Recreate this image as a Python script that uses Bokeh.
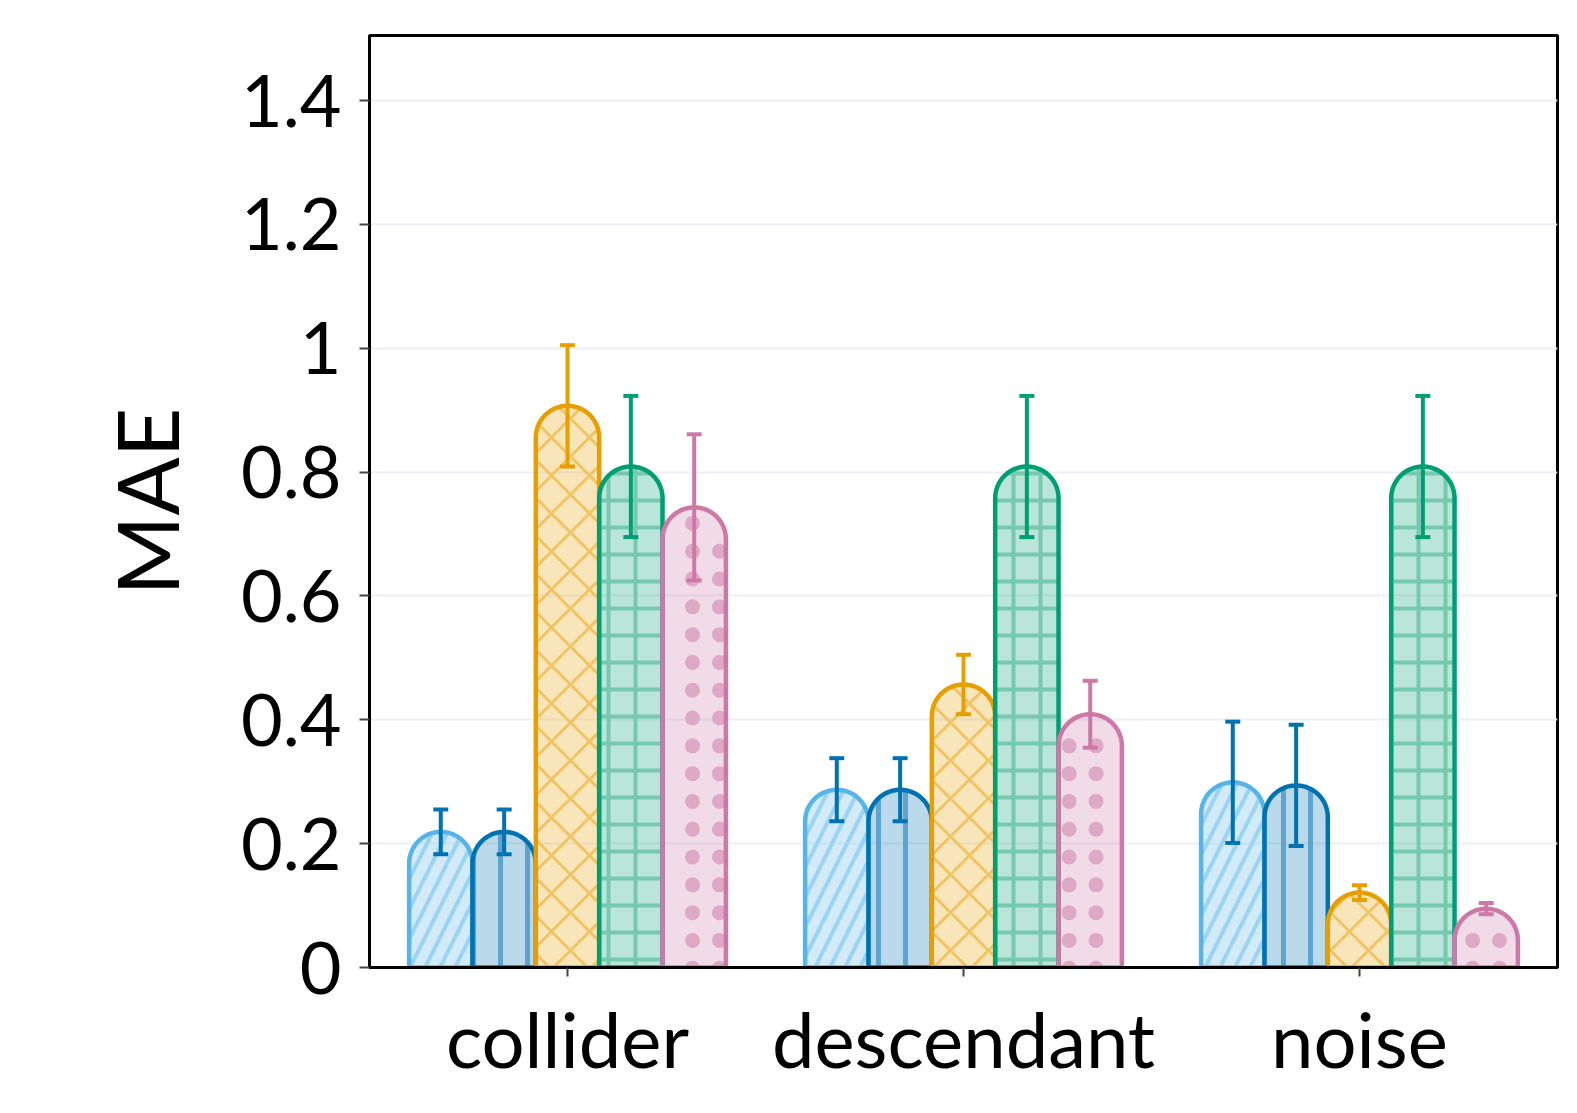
import math
import numpy as np
from bokeh.plotting import figure
from bokeh.models import Range1d, FixedTicker
from bokeh.embed import file_html
from bokeh.resources import INLINE

# ---- data ----
categories = ["collider", "descendant", "noise"]
series_names = ["s1", "s2", "s3", "s4", "s5"]
values = {
    "s1": [0.219, 0.287, 0.299],
    "s2": [0.219, 0.287, 0.294],
    "s3": [0.907, 0.457, 0.121],
    "s4": [0.809, 0.809, 0.809],
    "s5": [0.743, 0.409, 0.095],
}
errors = {
    "s1": [0.036, 0.051, 0.098],
    "s2": [0.036, 0.051, 0.098],
    "s3": [0.098, 0.048, 0.012],
    "s4": [0.114, 0.114, 0.114],
    "s5": [0.118, 0.054, 0.009],
}
y_ticks = [0, 0.2, 0.4, 0.6, 0.8, 1.0, 1.2, 1.4]
y_tick_labels = ["0", "0.2", "0.4", "0.6", "0.8", "1", "1.2", "1.4"]

# ---- styles ----
colors = {"s1": "#56B4E9", "s2": "#0072B2", "s3": "#E69F00", "s4": "#009E73", "s5": "#CC79A7"}
err_colors = {"s1": "#0072B2", "s2": "#0072B2", "s3": "#E69F00", "s4": "#009E73", "s5": "#CC79A7"}
hatches = {"s1": "right_diagonal_line", "s2": "vertical_line", "s3": "diagonal_cross",
           "s4": "cross", "s5": "blank"}
hatch_colors = {"s1": "#9dd3f2", "s2": "#5fa4cf", "s3": "#f0c463", "s4": "#76c9ae", "s5": "#dfaac8"}
hatch_scales = {"s1": 30, "s2": 27, "s3": 38, "s4": 27, "s5": 27}
hatch_weights = {"s1": 4, "s2": 5, "s3": 3, "s4": 4, "s5": 1}
DOT_COLOR = "#dea8c7"
DOT_SIZE_PX = 15
DOT_STEP_X_PX, DOT_STEP_Y_PX = 26.9, 27.8

FONT = "Lato"
FW, FH = 1188, 932
x0, x1 = -0.5, 2.5
y0, y1 = 0.0, 1.505
bar_w = 0.16

p = figure(width=1569, height=1103, frame_width=FW, frame_height=FH,
           x_range=Range1d(x0, x1), y_range=Range1d(y0, y1),
           output_backend="svg", toolbar_location=None,
           min_border_left=369, min_border_right=12, min_border_top=35, min_border_bottom=136)

px_x = FW / (x1 - x0)
px_y = FH / (y1 - y0)
rx = bar_w / 2
ry = rx * px_x / px_y
theta = np.linspace(np.pi, 0, 40)

shapes = {}
for i, s in enumerate(series_names):
    off = (i - 2) * bar_w
    xs_list, ys_list = [], []
    for j, v in enumerate(values[s]):
        xc = j + off
        yc = v - ry
        xs = [xc - rx, xc - rx] + list(xc + rx * np.cos(theta)) + [xc + rx, xc + rx]
        ys = [0, yc] + list(yc + ry * np.sin(theta)) + [yc, 0]
        xs_list.append(xs)
        ys_list.append(ys)
    shapes[s] = (xs_list, ys_list)
    # fill + hatch
    p.patches(xs_list, ys_list, fill_color=colors[s], fill_alpha=0.27, line_color=None,
              hatch_pattern=hatches[s], hatch_color=hatch_colors[s], hatch_alpha=1.0,
              hatch_scale=hatch_scales[s], hatch_weight=hatch_weights[s])

# dotted texture for the last series (drawn inside its bars)
dot_x, dot_y = [], []
dxd = DOT_STEP_X_PX / px_x
dyd = DOT_STEP_Y_PX / px_y
x_phase, y_phase = 0.3157, 0.6722
half_px = rx * px_x
lim = half_px - DOT_SIZE_PX / 2 + 2.0
for j, v in enumerate(values["s5"]):
    xc = j + 2 * bar_w
    yc = v - ry
    k0 = math.floor((xc - rx - x_phase) / dxd)
    k1 = math.ceil((xc + rx - x_phase) / dxd)
    m0 = math.floor((0 - y_phase) / dyd) - 1
    m1 = math.ceil((v - y_phase) / dyd)
    for k in range(k0, k1 + 1):
        xd = x_phase + k * dxd
        dxp = (xd - xc) * px_x
        if abs(dxp) > lim:
            continue
        for m in range(m0, m1 + 1):
            yd = y_phase + m * dyd
            if yd < -6 / px_y:
                continue
            if yd > yc:
                dyp = (yd - yc) * px_y
                if math.hypot(dxp, dyp) > lim:
                    continue
            dot_x.append(xd)
            dot_y.append(yd)
p.scatter(dot_x, dot_y, marker="circle", size=DOT_SIZE_PX, fill_color=DOT_COLOR, line_color=None)

# outlines on top
for s in series_names:
    xs_list, ys_list = shapes[s]
    p.patches(xs_list, ys_list, fill_color=None, line_color=colors[s], line_width=4.5)

for i, s in enumerate(series_names):
    off = (i - 2) * bar_w
    xs = [j + off for j in range(len(categories))]
    lo = [v - e for v, e in zip(values[s], errors[s])]
    hi = [v + e for v, e in zip(values[s], errors[s])]
    p.segment(x0=xs, y0=lo, x1=xs, y1=hi, line_color=err_colors[s], line_width=4)
    p.scatter(x=xs + xs, y=lo + hi, marker="dash", size=15,
              line_color=err_colors[s], line_width=4)

# axes
p.xaxis.ticker = FixedTicker(ticks=list(range(len(categories))))
p.xaxis.major_label_overrides = {i: c for i, c in enumerate(categories)}
p.yaxis.ticker = FixedTicker(ticks=y_ticks)
p.yaxis.major_label_overrides = {t: l for t, l in zip(y_ticks, y_tick_labels)}
for ax in (p.xaxis, p.yaxis):
    ax.minor_tick_line_color = None
    ax.axis_line_color = "black"
    ax.axis_line_width = 3
    ax.major_tick_line_color = "#444444"
    ax.major_tick_line_width = 2
    ax.major_tick_in = 0
    ax.major_label_text_font = FONT
    ax.major_label_text_color = "black"
p.yaxis.major_tick_out = 10
p.xaxis.major_tick_out = 9
p.yaxis.major_label_text_font_size = "72px"
p.xaxis.major_label_text_font_size = "76px"
p.yaxis.major_label_standoff = 18
p.xaxis.major_label_standoff = 16

p.yaxis.axis_label = "MAE"
p.yaxis.axis_label_text_font = FONT
p.yaxis.axis_label_text_font_size = "86px"
p.yaxis.axis_label_text_font_style = "normal"
p.yaxis.axis_label_text_color = "black"
p.yaxis.axis_label_standoff = 41

p.xgrid.grid_line_color = None
p.ygrid.grid_line_color = "#edf0f7"
p.ygrid.grid_line_width = 2
p.outline_line_color = "black"
p.outline_line_width = 3
p.background_fill_color = "white"
p.border_fill_color = "white"

open("out.html", "w").write(file_html(p, INLINE))
